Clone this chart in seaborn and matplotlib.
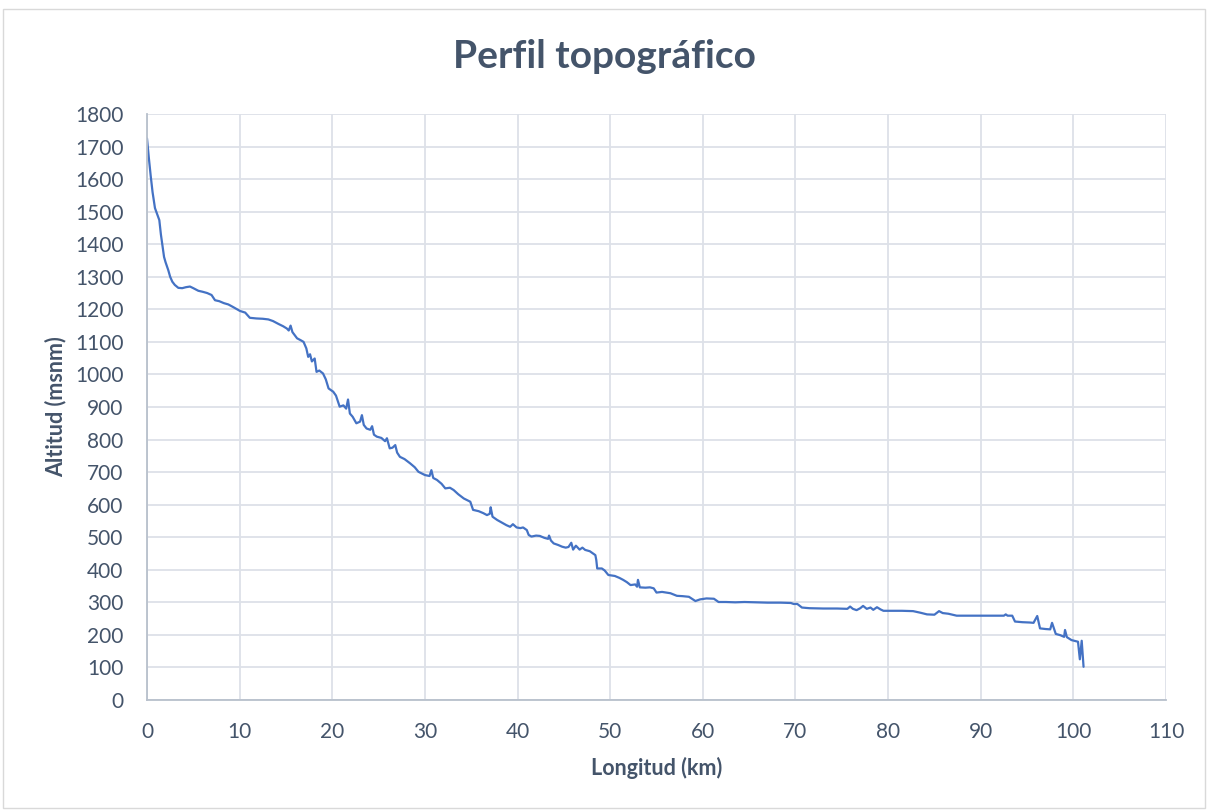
import numpy as np
import pandas as pd
import matplotlib
matplotlib.use("Agg")
import matplotlib.pyplot as plt
import seaborn as sns
from matplotlib.patches import Rectangle

km = [0, 0.2, 0.4, 0.6, 0.86, 1.0, 1.33, 1.5, 1.84, 2.0, 2.3, 2.5, 2.73, 3.0, 3.38, 3.8, 4.2, 4.64, 5.0, 5.54,
      6.0, 6.5, 6.97, 7.34, 7.8, 8.3, 8.78, 9.3, 10.04, 10.6, 11.1, 11.8, 12.5, 13.1, 13.6, 14.2, 14.7, 15.1, 15.3, 15.5,
      15.7, 16.2, 16.6, 16.9, 17.2, 17.4, 17.6, 17.8, 18.1, 18.3, 18.6, 19.0, 19.3, 19.6, 20.1, 20.4, 20.8, 21.2, 21.5, 21.7,
      21.9, 22.2, 22.6, 23.0, 23.2, 23.4, 23.7, 24.1, 24.3, 24.5, 24.8, 25.3, 25.7, 25.9, 26.2, 26.5, 26.8, 27.0, 27.3, 27.8,
      28.4, 28.9, 29.3, 30.0, 30.5, 30.7, 30.9, 31.3, 31.8, 32.2, 32.7, 33.1, 33.6, 34.2, 34.9, 35.2, 35.8, 36.3, 36.7, 37.0,
      37.1, 37.3, 37.8, 38.3, 38.8, 39.2, 39.5, 39.9, 40.3, 40.6, 41.0, 41.2, 41.5, 42.0, 42.4, 42.9, 43.3, 43.4, 43.6, 43.9,
      44.4, 44.8, 45.2, 45.5, 45.8, 46.0, 46.3, 46.7, 47.0, 47.3, 47.8, 48.4, 48.5, 48.6, 49.1, 49.4, 49.8, 50.5, 51.0, 51.4,
      51.8, 52.2, 52.7, 52.9, 53.0, 53.2, 53.8, 54.3, 54.7, 55.0, 55.6, 56.5, 57.2, 57.8, 58.5, 59.2, 59.7, 60.4, 61.2, 61.7,
      62.5, 63.5, 64.5, 65.8, 67.0, 68.4, 69.5, 69.8, 70.2, 70.7, 71.5, 73.0, 74.5, 75.6, 75.9, 76.2, 76.6, 77.0, 77.3, 77.7,
      78.1, 78.4, 78.8, 79.2, 79.5, 80.5, 81.5, 82.7, 83.5, 84.2, 85.0, 85.5, 85.9, 86.5, 87.4, 88.5, 90.0, 91.5, 92.5, 92.7,
      92.9, 93.4, 93.7, 94.5, 95.3, 95.7, 96.1, 96.4, 97.0, 97.5, 97.7, 98.1, 98.6, 99.0, 99.1, 99.3, 99.8, 100.2, 100.5, 100.7,
      100.9, 101.1]

altitud = [1725, 1665, 1610, 1560, 1511, 1500, 1474, 1430, 1361, 1345, 1320, 1300, 1285, 1275, 1266, 1265, 1268, 1270, 1265, 1257,
           1254, 1250, 1244, 1228, 1225, 1219, 1215, 1207, 1195, 1190, 1174, 1172, 1171, 1169, 1164, 1155, 1148, 1141, 1135, 1150,
           1130, 1111, 1105, 1100, 1080, 1054, 1062, 1040, 1049, 1008, 1012, 1003, 985, 957, 947, 935, 901, 905, 895, 923,
           880, 870, 850, 855, 875, 845, 834, 830, 841, 815, 809, 805, 795, 804, 773, 775, 783, 760, 747, 740,
           727, 715, 701, 691, 688, 706, 682, 676, 664, 650, 652, 645, 632, 619, 609, 584, 580, 574, 568, 572,
           592, 563, 553, 545, 537, 532, 540, 530, 528, 530, 522, 507, 502, 505, 504, 498, 495, 505, 490, 481,
           476, 471, 468, 470, 483, 462, 474, 462, 468, 461, 457, 445, 430, 404, 404, 398, 384, 381, 375, 369,
           362, 353, 355, 348, 369, 346, 345, 346, 343, 330, 332, 328, 320, 319, 317, 304, 309, 312, 311, 301,
           301, 300, 301, 300, 299, 299, 298, 295, 295, 284, 282, 281, 281, 280, 287, 280, 276, 282, 289, 280,
           284, 277, 285, 278, 274, 274, 274, 273, 268, 263, 262, 273, 267, 265, 259, 259, 259, 259, 259, 263,
           259, 259, 241, 239, 238, 237, 258, 220, 218, 217, 237, 203, 199, 194, 215, 193, 184, 181, 179, 125,
           182, 102]

x_ticks = list(range(0, 111, 10))
y_ticks = list(range(0, 1801, 100))

df = pd.DataFrame({"Longitud (km)": km, "Altitud (msnm)": altitud})

sns.set_theme(style="white")
plt.rcParams["font.family"] = ["Lato", "DejaVu Sans"]

text_c = "#44546A"
fig = plt.figure(figsize=(12.08, 8.11), dpi=100)
ax = fig.add_axes([147/1208, 111/811, (1166-147)/1208, (700-114)/811])

sns.lineplot(data=df, x="Longitud (km)", y="Altitud (msnm)", ax=ax, sort=False,
             estimator=None, color="#4472C4", linewidth=1.6)

ax.set_xlim(0, 110)
ax.set_ylim(0, 1800)
ax.set_xticks(x_ticks)
ax.set_yticks(y_ticks)
grid_c = "#DDE1E8"
ax.grid(True, color=grid_c, linewidth=1.3)
ax.set_axisbelow(True)
for s in ["top", "right"]:
    ax.spines[s].set_visible(False)
ax.spines["left"].set_color("#B8C0CC")
ax.spines["bottom"].set_color("#B8C0CC")
ax.spines["left"].set_linewidth(1.3)
ax.spines["bottom"].set_linewidth(1.3)
ax.tick_params(axis="both", length=0, labelsize=15, labelcolor=text_c)
ax.tick_params(axis="y", pad=17)
ax.tick_params(axis="x", pad=16)

ax.set_xlabel("Longitud (km)", fontsize=15.5, fontweight="bold", color=text_c)
ax.set_ylabel("Altitud (msnm)", fontsize=15.5, fontweight="bold", color=text_c)
ax.xaxis.set_label_coords(0.5, (700 - 768) / 586)
ax.yaxis.set_label_coords((56 - 147) / 1019, 0.5)
ax.xaxis.label.set_va("center")
ax.yaxis.label.set_va("center")

fig.text(0.5, 1 - 57/811, "Perfil topográfico", ha="center", va="center",
         fontsize=28, fontweight="bold", color=text_c)

fig.patches.append(Rectangle((3/1208, 3/811), 1 - 6/1208, 1 - 12/811, transform=fig.transFigure,
                             fill=False, edgecolor="#D9D9D9", linewidth=1))

fig.savefig("out.png", dpi=100)
